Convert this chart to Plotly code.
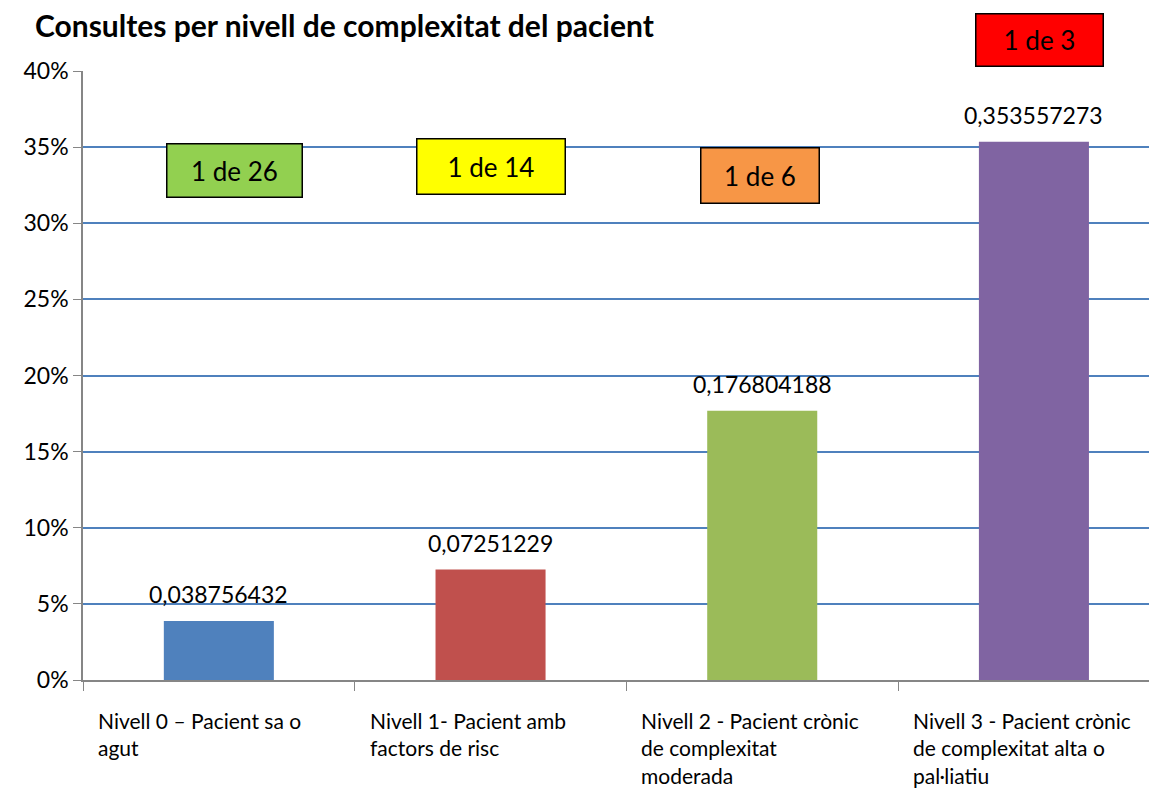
import plotly.graph_objects as go

categories = [
    "Nivell 0 – Pacient sa o<br>agut",
    "Nivell 1- Pacient amb<br>factors de risc",
    "Nivell 2 - Pacient crònic<br>de complexitat<br>moderada",
    "Nivell 3 - Pacient crònic<br>de complexitat alta o<br>pal·liatiu",
]
values = [0.038756432, 0.07251229, 0.176804188, 0.353557273]
bar_colors = ["#4F81BD", "#C0504D", "#9BBB59", "#8064A2"]
ratio_labels = ["1 de 26", "1 de 14", "1 de 6", "1 de 3"]
ratio_colors = ["#92D050", "#FFFF00", "#F79646", "#FF0000"]

FONT = "Lato, Open Sans, sans-serif"
x = list(range(len(values)))

fig = go.Figure()
fig.add_trace(go.Bar(x=x, y=values, width=0.405, marker_color=bar_colors,
                     marker_line_width=0, showlegend=False, hoverinfo="skip"))

# value labels above the bars
for i, v in enumerate(values):
    fig.add_annotation(x=i, y=v, xref="x", yref="y", text=str(v).replace(".", ","),
                       showarrow=False, yanchor="bottom", yshift=11,
                       font=dict(family=FONT, size=23, color="#000000"))

# category labels, left aligned under each slot
for i, c in enumerate(categories):
    fig.add_annotation(x=i - 0.5, y=0, xref="x", yref="y", text=c, showarrow=False,
                       xanchor="left", yanchor="top", align="left", xshift=13, yshift=-26,
                       font=dict(family=FONT, size=21, color="#000000"))

# "1 de N" boxes (y in plot fraction, so the last one can sit above the axes)
box_pos = [(0.056, 0.836, 138, 56), (1.002, 0.8425, 151, 58),
           (1.99, 0.829, 121, 58), (3.022, 1.051, 130, 55)]
for (bx, by, bw, bh), lab, col in zip(box_pos, ratio_labels, ratio_colors):
    fig.add_annotation(x=bx, y=by, xref="x", yref="paper", text=lab, showarrow=False,
                       xanchor="center", yanchor="middle",
                       width=bw - 4, height=bh - 4, borderpad=0, bgcolor=col,
                       bordercolor="#000000", borderwidth=1.5,
                       font=dict(family=FONT, size=26, color="#000000"))

fig.update_layout(
    width=1157, height=789,
    margin=dict(l=75, r=8, t=63, b=117),
    paper_bgcolor="white", plot_bgcolor="white",
    font=dict(family=FONT, color="#000000"),
    title=dict(text="<b>Consultes per nivell de complexitat del pacient</b>",
               x=0.0233, xanchor="left", y=0.976, yanchor="middle",
               font=dict(family=FONT, size=30, color="#000000")),
)
fig.update_xaxes(range=[-0.5, 3.453], tickvals=[-0.5, 0.5, 1.5, 2.5, 3.5],
                 showticklabels=False, ticks="outside", ticklen=9, tickcolor="#868686",
                 showgrid=False, zeroline=False, showline=True, linecolor="#868686",
                 linewidth=1.5)
fig.update_yaxes(range=[0, 0.4], dtick=0.05, tickformat=".0%", ticks="outside",
                 ticklen=8, tickcolor="#868686", showgrid=True, gridcolor="#4F81BD",
                 gridwidth=1.5, zeroline=False, showline=True, linecolor="#868686",
                 linewidth=1.5, tickfont=dict(family=FONT, size=23, color="#000000"))

fig.write_html("out.html")
